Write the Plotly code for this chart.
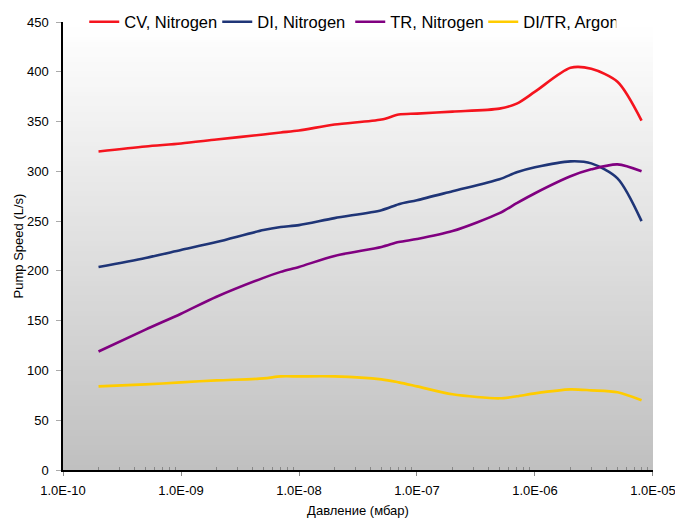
import plotly.graph_objects as go

# ---- data ----
pressure = [2e-10, 5e-10, 1e-9, 2e-9, 5e-9, 7e-9, 1e-8, 2e-8, 5e-8, 7e-8,
            1e-7, 2e-7, 5e-7, 7e-7, 1e-6, 2e-6, 3e-6, 5e-6, 8e-6]
cv_nitrogen = [320, 325, 328, 332, 337, 339, 341, 347, 352, 357,
               358, 360, 363, 368, 380, 404, 403, 390, 351]
di_nitrogen = [204, 213, 221, 229, 241, 244, 246, 253, 261, 267,
               271, 280, 292, 299, 304, 310, 308, 293, 250]
tr_nitrogen = [119, 141, 157, 174, 193, 199, 204, 215, 224, 229,
               232, 240, 258, 268, 278, 295, 302, 307, 300]
ditr_argon = [84, 86, 88, 90, 92, 94, 94, 94, 91, 88,
              84, 76, 72, 74, 77, 81, 80, 78, 70]

series_names = ["CV, Nitrogen", "DI, Nitrogen", "TR, Nitrogen", "DI/TR, Argon"]
series_values = [cv_nitrogen, di_nitrogen, tr_nitrogen, ditr_argon]
series_colors = ["#f5141e", "#1f3577", "#800080", "#ffcc00"]

x_tickvals = [1e-10, 1e-9, 1e-8, 1e-7, 1e-6, 1e-5]
x_ticktext = ["1.0E-10", "1.0E-09", "1.0E-08", "1.0E-07", "1.0E-06", "1.0E-05"]
x_minor = [m * 10 ** e for e in range(-10, -5) for m in range(2, 10)]
y_tickvals = list(range(0, 451, 50))

fig = go.Figure()
for name, vals, col in zip(series_names, series_values, series_colors):
    fig.add_trace(go.Scatter(
        x=pressure, y=vals, name=name, mode="lines",
        line=dict(color=col, width=2.6, shape="spline", smoothing=0.8),
    ))

# vertical gradient background of plot area
n = 90
shapes = []
for i in range(n):
    t = i / (n - 1)
    v = round(255 - (255 - 192) * (1 - t))
    shapes.append(dict(type="rect", xref="paper", yref="paper",
                       x0=0, x1=1, y0=i / n, y1=(i + 1) / n + 0.002,
                       fillcolor=f"rgb({v},{v},{v})", line=dict(width=0),
                       layer="below"))

font = "Liberation Sans, Arial, sans-serif"
fig.update_layout(
    width=675, height=518,
    margin=dict(l=63, r=22, t=22, b=48, autoexpand=False),
    paper_bgcolor="white", plot_bgcolor="white",
    shapes=shapes,
    font=dict(family=font, size=13, color="black"),
    showlegend=True,
    legend=dict(orientation="h", x=0.036, y=1.0, xanchor="left", yanchor="middle",
                font=dict(size=16.5, family=font), bgcolor="rgba(0,0,0,0)",
                itemwidth=30, traceorder="normal",
                entrywidth=88, entrywidthmode="pixels"),
    xaxis=dict(type="log", range=[-10, -4.9999], tickvals=x_tickvals, ticktext=x_ticktext,
               showgrid=False, zeroline=False, showline=True, linecolor="black",
               linewidth=1.5, ticks="outside", ticklen=4, tickcolor="#888",
               minor=dict(tickvals=x_minor, ticks="inside", ticklen=3, tickcolor="#888"),
               tickfont=dict(size=13), ticklabelstandoff=4, ticklabeloverflow="allow",
               title=dict(text="Давление (мбар)", font=dict(size=13), standoff=10)),
    yaxis=dict(range=[0, 450], tickvals=y_tickvals, showgrid=False, zeroline=False,
               showline=True, linecolor="black", linewidth=1.5, ticks="outside",
               ticklen=5, tickcolor="#aaa", tickfont=dict(size=13), ticklabelstandoff=5,
               title=dict(text="Pump Speed (L/s)", font=dict(size=13), standoff=0)),
)

fig.write_html("out.html",
               config={"displayModeBar": False},
               post_script="document.body.style.margin='0';"
                           "document.body.style.overflow='hidden';")
